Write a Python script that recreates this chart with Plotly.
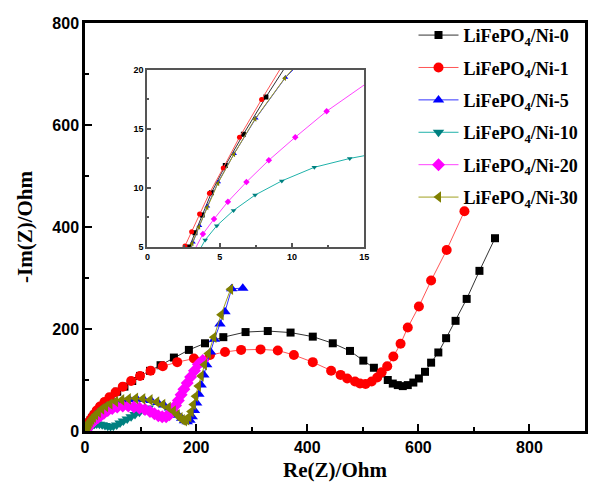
import plotly.graph_objects as go

# ---------------- data (Re(Z), -Im(Z)) ----------------
ni0_x = [1.5, 2.3, 2.9, 3.29, 3.79, 4.43, 5.39, 6.64, 8.2, 10.2, 13, 17, 22, 28, 36, 46, 58, 71, 85, 99, 117, 136, 160, 187, 216, 249, 289, 329, 370, 410, 446, 477, 501, 520, 532, 545, 554, 563, 572, 581, 591, 601, 612, 623, 636, 650, 667, 687, 710, 738]
ni0_y = [2.0, 3.8, 5.0, 6.2, 7.7, 9.6, 11.9, 14.55, 17.7, 21.5, 26, 32, 39, 47, 56, 66, 77, 87, 98, 108, 118, 129, 144, 159, 172, 184, 194, 196, 193, 185, 172, 157, 138, 124, 113, 100, 93, 90, 88, 90, 95, 103, 116, 134, 154, 182, 216, 259, 314, 378]

ni1_x = [1.2, 1.9, 2.6, 3.06, 3.61, 4.29, 5.25, 6.37, 7.9, 9.9, 12.6, 16, 21, 27, 35, 44, 55, 68, 83, 99, 118, 140, 166, 196, 225, 252, 281, 316, 347, 376, 410, 443, 460, 472, 486, 495, 505, 516, 526, 534, 544, 555, 568, 581, 601, 623, 651, 683]
ni1_y = [2.0, 3.6, 5.08, 6.3, 7.8, 9.55, 11.7, 14.3, 17.5, 21.5, 26, 32, 40, 48, 57, 66, 76, 87, 98, 108, 118, 127, 135, 142, 149, 155, 159, 160, 158, 149, 135, 118, 110, 103, 97, 93, 92, 97, 105, 115, 127, 146, 171, 203, 244, 295, 355, 431]

ni5_x = [2.3, 2.8, 3.15, 3.6, 4.15, 4.9, 6.0, 7.5, 9.55, 12.5, 16, 20, 25, 31, 38, 47, 57, 68, 80, 93, 106, 119, 131, 142, 152, 161, 168, 174, 179, 184, 189, 193, 197, 201, 205, 209, 214, 219, 226, 233, 243, 252, 264, 284]
ni5_y = [2.1, 3.9, 5.4, 6.8, 8.45, 10.5, 12.9, 15.9, 19.35, 23, 27, 32, 37, 42, 47, 52, 57, 60, 62, 63, 62, 60, 56, 51, 45, 38, 31, 25, 20, 18, 21, 28, 40, 55, 72, 90, 110, 130, 155, 180, 210, 234, 279, 280]

ni10_x = [2.6, 3.3, 4.0, 4.8, 5.96, 7.45, 9.3, 11.55, 14.0, 17, 21, 26, 31, 36, 41, 46, 51, 57, 63, 69, 76, 83, 90, 98, 106, 114]
ni10_y = [2.5, 4.0, 5.6, 6.8, 8.1, 9.4, 10.6, 11.75, 12.5, 13.2, 13.6, 13.4, 12.5, 11, 9.5, 8.8, 9.5, 12, 15.5, 19.5, 23.5, 28, 32.5, 37, 41, 45]

ni20_x = [2.6, 3.2, 3.84, 4.61, 5.57, 6.85, 8.4, 10.23, 12.4, 15.2, 18.5, 23, 28, 34, 41, 49, 58, 68, 78, 88, 98, 108, 117, 125, 132, 139, 146, 152, 158, 163, 168, 173, 178, 184, 190, 197, 204, 212]
ni20_y = [3.0, 4.6, 6.1, 7.37, 8.84, 10.5, 12.35, 14.3, 16.5, 19.0, 22, 26, 30, 35, 40, 44, 47, 49, 49, 47, 45, 42, 38, 34, 30, 28, 28, 32, 40, 50, 60, 71, 82, 94, 106, 118, 131, 138]

ni30_x = [2.2, 2.7, 3.1, 3.56, 4.13, 4.88, 5.98, 7.45, 9.5, 12, 15, 19, 24, 30, 37, 45, 55, 66, 78, 91, 104, 117, 129, 140, 150, 159, 166, 171, 175, 179, 183, 187, 191, 195, 199, 204, 209, 215, 222, 232, 245, 262]
ni30_y = [2.0, 3.8, 5.3, 6.7, 8.35, 10.4, 12.85, 15.85, 19.3, 23, 27, 32, 37, 43, 48, 53, 58, 61, 63, 64, 63, 61, 57, 52, 46, 39, 32, 26, 22, 20, 22, 28, 38, 52, 68, 88, 108, 130, 152, 184, 228, 278]

names = ["LiFePO<sub>4</sub>/Ni-0", "LiFePO<sub>4</sub>/Ni-1", "LiFePO<sub>4</sub>/Ni-5",
         "LiFePO<sub>4</sub>/Ni-10", "LiFePO<sub>4</sub>/Ni-20", "LiFePO<sub>4</sub>/Ni-30"]
xs = [ni0_x, ni1_x, ni5_x, ni10_x, ni20_x, ni30_x]
ys = [ni0_y, ni1_y, ni5_y, ni10_y, ni20_y, ni30_y]

# ---------------- styles ----------------
marker_colors = ["#000000", "#FF0000", "#0000FF", "#008080", "#FF00FF", "#808000"]
line_colors = ["#333333", "#FF5555", "#3333FF", "#20B2AA", "#FF44FF", "#A0A020"]
symbols = ["square", "circle", "triangle-up", "triangle-down", "diamond", "triangle-left"]
msizes = [8, 10, 10, 10, 10, 10]

fig = go.Figure()
for i in range(6):
    fig.add_trace(go.Scatter(
        x=xs[i], y=ys[i], mode="lines+markers", name=names[i],
        legendgroup="g%d" % i,
        line=dict(color=line_colors[i], width=1),
        marker=dict(color=marker_colors[i], symbol=symbols[i], size=msizes[i]),
        xaxis="x", yaxis="y"))
for i in range(6):
    fig.add_trace(go.Scatter(
        x=xs[i], y=ys[i], mode="lines+markers", showlegend=False,
        line=dict(color=line_colors[i], width=1),
        marker=dict(color=marker_colors[i], symbol=symbols[i], size=5),
        xaxis="x2", yaxis="y2"))

tickfont_main = dict(family="Liberation Sans", size=16, color="black", weight="bold")
tickfont_in = dict(family="Liberation Sans", size=9, color="black", weight="bold")
titlefont = dict(family="Liberation Serif", size=21, color="black", weight="bold")

fig.update_layout(
    width=591, height=486,
    margin=dict(l=85, r=1, t=23, b=55),
    paper_bgcolor="white", plot_bgcolor="white",
    showlegend=True,
    legend=dict(x=0.657, y=1.015, xanchor="left", yanchor="top",
                bgcolor="rgba(0,0,0,0)", borderwidth=0,
                font=dict(family="Liberation Serif", size=18, color="black", weight="bold"),
                itemwidth=40, tracegroupgap=6),
    xaxis=dict(range=[0, 900], domain=[0, 1], dtick=200, tick0=0,
               ticks="inside", ticklen=7, tickwidth=2, tickcolor="black",
               minor=dict(dtick=100, ticks="inside", ticklen=4, tickwidth=2, tickcolor="black"),
               showline=True, linewidth=2.5, linecolor="black", mirror=True,
               showgrid=False, zeroline=False, tickfont=tickfont_main,
               title=dict(text="Re(Z)/Ohm", font=titlefont, standoff=8)),
    yaxis=dict(range=[0, 800], domain=[0, 1], dtick=200, tick0=0,
               ticks="inside", ticklen=7, tickwidth=2, tickcolor="black",
               minor=dict(dtick=100, ticks="inside", ticklen=4, tickwidth=2, tickcolor="black"),
               showline=True, linewidth=2.5, linecolor="black", mirror=True,
               showgrid=False, zeroline=False, tickfont=tickfont_main,
               title=dict(text="-Im(Z)/Ohm", font=titlefont, standoff=14)),
    xaxis2=dict(range=[0, 15], domain=[0.1248, 0.5584], anchor="y2", dtick=5, tick0=0,
                ticks="inside", ticklen=4, tickwidth=1.5, tickcolor="#555555",
                minor=dict(dtick=2.5, ticks="inside", ticklen=2, tickwidth=1.5, tickcolor="#555555"),
                showline=True, linewidth=2, linecolor="#555555", mirror=True,
                showgrid=False, zeroline=False, tickfont=tickfont_in, ticklabelstandoff=0),
    yaxis2=dict(range=[5, 20], domain=[0.451, 0.885], anchor="x2", dtick=5, tick0=0,
                ticks="inside", ticklen=4, tickwidth=1.5, tickcolor="#555555",
                minor=dict(dtick=2.5, ticks="inside", ticklen=2, tickwidth=1.5, tickcolor="#555555"),
                showline=True, linewidth=2, linecolor="#555555", mirror=True,
                showgrid=False, zeroline=False, tickfont=tickfont_in, ticklabelstandoff=0),
)

fig.write_html("out.html")
